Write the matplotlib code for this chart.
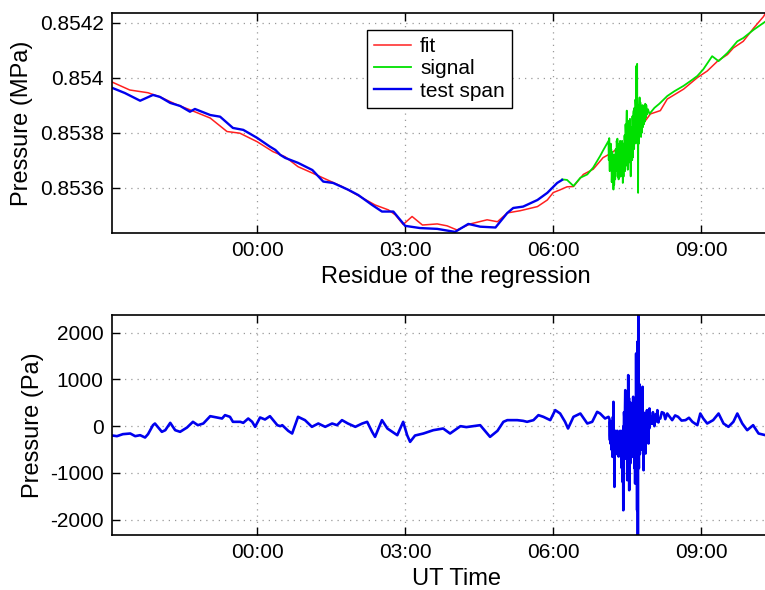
import matplotlib.pyplot as plt

# time axis in hours (UT)
# top panel: pressure in MPa
span_t = [-2.94, -2.68, -2.37, -2.11, -1.97, -1.76, -1.56, -1.36, -1.26, -0.95,
          -0.75, -0.49, -0.28, 0.00, 0.26, 0.37, 0.47, 0.57, 0.83, 1.12,
          1.34, 1.54, 1.85, 2.05, 2.33, 2.53, 2.76, 3.00, 3.30, 3.65,
          4.01, 4.28, 4.52, 4.83, 5.07, 5.19, 5.39, 5.68, 5.88, 6.08, 6.18]
span_p = [0.853963, 0.853944, 0.853916, 0.853937, 0.853930, 0.853908, 0.853897, 0.853876, 0.853886, 0.853864,
          0.853858, 0.853817, 0.853810, 0.853781, 0.853749, 0.853737, 0.853719, 0.853708, 0.853690, 0.853664,
          0.853622, 0.853617, 0.853592, 0.853573, 0.853537, 0.853513, 0.853513, 0.853461, 0.853453, 0.853450,
          0.853439, 0.853468, 0.853458, 0.853455, 0.853508, 0.853526, 0.853531, 0.853555, 0.853581, 0.853617, 0.853628]

fit_t = [-2.94, -2.58, -2.21, -1.97, -1.62, -1.36, -0.95, -0.61, -0.35, 0.00,
         0.32, 0.57, 0.83, 1.12, 1.72, 2.39, 2.66, 2.80, 2.96, 3.14,
         3.35, 3.65, 3.85, 4.05, 4.32, 4.66, 4.87, 5.07, 5.33, 5.68,
         5.88, 6.00, 6.14, 6.28, 6.41, 6.61, 6.81, 7.01, 7.16, 7.36,
         7.62, 7.97, 8.17, 8.31, 8.64, 8.92, 9.12, 9.33, 9.53, 9.65,
         9.85, 10.06, 10.26, 10.32]
fit_p = [0.853984, 0.853955, 0.853945, 0.853930, 0.853901, 0.853883, 0.853853, 0.853804, 0.853798, 0.853767,
         0.853731, 0.853712, 0.853676, 0.853653, 0.853604, 0.853537, 0.853519, 0.853501, 0.853466, 0.853495,
         0.853464, 0.853468, 0.853461, 0.853446, 0.853468, 0.853483, 0.853476, 0.853508, 0.853516, 0.853531,
         0.853555, 0.853582, 0.853592, 0.853603, 0.853604, 0.853648, 0.853667, 0.853709, 0.853724, 0.853749,
         0.853784, 0.853868, 0.853880, 0.853922, 0.853958, 0.854000, 0.854024, 0.854060, 0.854084, 0.854108,
         0.854132, 0.854180, 0.854222, 0.854240]

sig_t = [6.18, 6.28, 6.41, 6.55, 6.69, 6.81, 6.95, 7.01, 7.10,
         7.120, 7.125, 7.130, 7.135, 7.140, 7.145, 7.150, 7.155, 7.160, 7.165,
         7.170, 7.175, 7.180, 7.185, 7.190, 7.195, 7.200, 7.205, 7.210, 7.215,
         7.220, 7.225, 7.230, 7.235, 7.240, 7.245, 7.250, 7.255, 7.260, 7.265,
         7.270, 7.275, 7.280, 7.285, 7.290, 7.295, 7.300, 7.305, 7.310, 7.315,
         7.320, 7.325, 7.330, 7.335, 7.340, 7.345, 7.350, 7.355, 7.360, 7.365,
         7.370, 7.375, 7.380, 7.385, 7.390, 7.395, 7.400, 7.405, 7.410, 7.415,
         7.420, 7.425, 7.430, 7.435, 7.440, 7.445, 7.450, 7.455, 7.460, 7.465,
         7.470, 7.475, 7.480, 7.485, 7.490, 7.495, 7.500, 7.505, 7.510, 7.515,
         7.520, 7.525, 7.530, 7.535, 7.540, 7.545, 7.550, 7.555, 7.560, 7.565,
         7.570, 7.575, 7.580, 7.585, 7.590, 7.595, 7.600, 7.605, 7.610, 7.615,
         7.620, 7.625, 7.630, 7.635, 7.640, 7.645, 7.650, 7.655, 7.660, 7.665,
         7.670, 7.675, 7.680, 7.685, 7.690, 7.695, 7.700, 7.705, 7.710, 7.715,
         7.720, 7.725, 7.730, 7.735, 7.740, 7.745, 7.750, 7.755, 7.760, 7.765,
         7.770, 7.775, 7.780, 7.785, 7.790, 7.795, 7.800, 7.805, 7.810, 7.815,
         7.820, 7.825, 7.830, 7.835, 7.840, 7.845, 7.850, 7.855, 7.860, 7.865,
         7.870, 7.875, 7.880, 7.885, 7.890, 7.895, 7.900, 7.92,
         7.95, 8.05, 8.15, 8.31, 8.45, 8.64, 8.80, 8.92, 9.04, 9.22,
         9.35, 9.53, 9.73, 9.85, 10.06, 10.30]
sig_p = [0.853630, 0.853628, 0.853606, 0.853636, 0.853648, 0.853673, 0.853715, 0.853735, 0.853764,
         0.853770, 0.853700, 0.853740, 0.853780, 0.853700, 0.853660, 0.853745, 0.853690, 0.853724, 0.853760,
         0.853680, 0.853740, 0.853710, 0.853620, 0.853650, 0.853730, 0.853676, 0.853640, 0.853620, 0.853700,
         0.853593, 0.853720, 0.853690, 0.853610, 0.853640, 0.853720, 0.853688, 0.853630, 0.853650, 0.853740,
         0.853720, 0.853660, 0.853680, 0.853770, 0.853760, 0.853690, 0.853778, 0.853640, 0.853670, 0.853750,
         0.853700, 0.853630, 0.853660, 0.853760, 0.853720, 0.853650, 0.853690, 0.853770, 0.853724, 0.853640,
         0.853680, 0.853760, 0.853736, 0.853660, 0.853700, 0.853770, 0.853650, 0.853720, 0.853617, 0.853740,
         0.853700, 0.853640, 0.853760, 0.853680, 0.853690, 0.853790, 0.853749, 0.853660, 0.853700, 0.853830,
         0.853800, 0.853680, 0.853720, 0.853840, 0.853880, 0.853700, 0.853760, 0.853820, 0.853665, 0.853810,
         0.853780, 0.853690, 0.853700, 0.853830, 0.853844, 0.853700, 0.853740, 0.853850, 0.853800, 0.853690,
         0.853641, 0.853820, 0.853760, 0.853700, 0.853820, 0.853730, 0.853700, 0.853860, 0.853800, 0.853710,
         0.853760, 0.853870, 0.853880, 0.853740, 0.853740, 0.853890, 0.853850, 0.853760, 0.853780, 0.853920,
         0.853900, 0.853780, 0.854042, 0.853820, 0.853800, 0.853960, 0.854050, 0.853760, 0.853900, 0.853700,
         0.853581, 0.853900, 0.853856, 0.853760, 0.853780, 0.853900, 0.853928, 0.853800, 0.853820, 0.853910,
         0.853880, 0.853790, 0.853784, 0.853890, 0.853860, 0.853810, 0.853800, 0.853900, 0.853880, 0.853820,
         0.853820, 0.853895, 0.853870, 0.853830, 0.853832, 0.853900, 0.853880, 0.853840, 0.853850, 0.853905,
         0.853892, 0.853855, 0.853860, 0.853900, 0.853890, 0.853865, 0.853870, 0.853885,
         0.853868, 0.853890, 0.853905, 0.853933, 0.853950, 0.853970, 0.853990, 0.854006, 0.854030, 0.854078,
         0.854060, 0.854090, 0.854132, 0.854144, 0.854174, 0.854204]

# bottom panel: residue of the regression in Pa
res_t = [-2.98, -2.84, -2.72, -2.57, -2.47, -2.37, -2.27, -2.21, -2.11, -2.07,
         -1.93, -1.86, -1.76, -1.66, -1.56, -1.42, -1.30, -1.20, -1.09, -0.95,
         -0.81, -0.71, -0.65, -0.55, -0.49, -0.34, -0.28, -0.18, -0.10, -0.04,
         0.06, 0.16, 0.26, 0.41, 0.47, 0.51, 0.63, 0.71, 0.83, 0.97,
         1.11, 1.24, 1.38, 1.52, 1.62, 1.72, 1.84, 1.99, 2.13, 2.23,
         2.33, 2.39, 2.53, 2.64, 2.74, 2.84, 2.96, 3.04, 3.10, 3.20,
         3.37, 3.57, 3.77, 3.91, 4.12, 4.24, 4.38, 4.52, 4.72, 4.87,
         4.99, 5.07, 5.19, 5.27, 5.39, 5.47, 5.60, 5.70, 5.80, 5.94,
         6.04, 6.14, 6.24, 6.30, 6.41, 6.55, 6.69, 6.79, 6.89, 6.95,
         7.05, 7.12,
         7.140, 7.145, 7.150, 7.155, 7.160, 7.165, 7.170, 7.175, 7.180, 7.185,
         7.190, 7.195, 7.200, 7.205, 7.210, 7.215, 7.220, 7.225, 7.230, 7.235,
         7.240, 7.245, 7.250, 7.255, 7.260, 7.265, 7.270, 7.275, 7.280, 7.285,
         7.290, 7.295, 7.300, 7.305, 7.310, 7.315, 7.320, 7.325, 7.330, 7.335,
         7.340, 7.345, 7.350, 7.355, 7.360, 7.365, 7.370, 7.375, 7.380, 7.385,
         7.390, 7.395, 7.400, 7.405, 7.410, 7.415, 7.420, 7.425, 7.430, 7.435,
         7.440, 7.445, 7.450, 7.455, 7.460, 7.465, 7.470, 7.475, 7.480, 7.485,
         7.490, 7.495, 7.500, 7.505, 7.510, 7.515, 7.520, 7.525, 7.530, 7.535,
         7.540, 7.545, 7.550, 7.555, 7.560, 7.565, 7.570, 7.575, 7.580, 7.585,
         7.590, 7.595, 7.600, 7.605, 7.610, 7.615, 7.620, 7.625, 7.630, 7.635,
         7.640, 7.645, 7.650, 7.655, 7.660, 7.665, 7.670, 7.675, 7.680, 7.685,
         7.690, 7.695, 7.700, 7.705, 7.710, 7.715, 7.720, 7.725, 7.730, 7.735,
         7.740, 7.745, 7.750, 7.755, 7.760, 7.765, 7.770, 7.775, 7.780, 7.785,
         7.790, 7.795, 7.800, 7.805, 7.810, 7.815, 7.820, 7.825, 7.830, 7.835,
         7.840, 7.845, 7.850, 7.855, 7.860, 7.865, 7.870, 7.875, 7.880, 7.885,
         7.890, 7.895, 7.900, 7.905, 7.910, 7.915, 7.920, 7.925, 7.930, 7.935,
         7.940, 7.945, 7.950, 7.960, 7.970,
         8.00, 8.02, 8.03, 8.05, 8.07, 8.09, 8.11, 8.13, 8.14, 8.17,
         8.20, 8.24, 8.27, 8.31, 8.36, 8.41, 8.47, 8.53, 8.60, 8.68,
         8.75, 8.82, 8.92, 8.98, 9.04, 9.12, 9.24, 9.35, 9.45, 9.55,
         9.65, 9.73, 9.83, 9.93, 10.05, 10.16, 10.30, 11.00]
res_p = [-193, -214, -171, -157, -214, -193, -243, -171, 21, 57,
         -121, -86, 71, -86, -121, -29, 93, 21, 57, 214,
         186, 164, 236, 200, 93, 93, 71, 164, 93, -14,
         186, 143, 214, 21, 0, 21, -100, -157, 200, 129,
         -14, 57, -14, 57, 21, 129, 57, -14, 57, 93,
         -121, -229, 129, -50, -121, -193, 93, -193, -336, -200,
         -157, -86, -50, -157, 0, -20, 0, 21, -229, -100,
         93, 129, 129, 129, 114, 93, 129, 236, 200, 129,
         343, 271, 93, -50, 200, 271, 57, 93, 307, 271,
         164, 200,
         150, -200, -300, 100, -371, -100, 100, -350, -500, -50,
         -200, -450, -657, -100, 200, -300, 521, -600, -400, -100,
         -1300, -200, -300, -600, -450, -100, -150, -550, -500, -150,
         -250, -600, -100, -500, -450, -150, -300, -650, -550, -150,
         -200, -600, -400, -100, -230, -500, -600, -150, -300, -700,
         -900, -100, -200, -600, -1200, -300, -1800, 0, -300, 300,
         200, -700, -500, 400, 771, -300, -600, 500, 300, -400,
         -700, 200, -1157, 100, 400, -500, 1093, -600, -200, 600,
         -1371, -100, 250, -500, -800, 200, 500, -300, 414, -600,
         -400, 300, -657, 100, 300, -400, 629, -300, -500, 500,
         200, -600, -900, 300, -1229, 200, 600, -500, 1557, -300,
         -700, 800, -1800, 1807, -1000, -2600, 500, 2600, -400, -900,
         300, 900, -200, -600, -230, 500, 400, -300, -500, 200,
         300, -400, -300, 500, 843, -200, -400, 300, -943, 100,
         200, -300, 271, -100, -300, 250, -586, 100, 250, -250,
         -200, 300, 343, -100, -150, 250, 300, -150, -371, 200,
         150, -50, 379, 50, 200,
         50, 300, 129, 0, 250, 100, 343, 80, 150, 164,
         300, 280, 150, 271, 200, 129, 230, 200, 120, 129,
         180, 93, 21, 271, 164, 57, 129, 271, 57, -14,
         93, 271, 57, -86, 21, -157, -193, -150]

hour_ticks = [0, 3, 6, 9]
hour_labels = ['00:00', '03:00', '06:00', '09:00']
mpa_ticks = [0.8536, 0.8538, 0.854, 0.8542]
mpa_labels = ['0.8536', '0.8538', '0.854', '0.8542']
pa_ticks = [-2000, -1000, 0, 1000, 2000]
pa_labels = ['-2000', '-1000', '0', '1000', '2000']

plt.rcParams['font.family'] = ['Liberation Sans', 'DejaVu Sans']

fig = plt.figure(figsize=(7.65, 5.9), dpi=100)
# the axes run past the right edge of the figure, as in the cropped original
ax1 = fig.add_axes([112 / 765, 1 - 233 / 590, 688 / 765, 220 / 590])
ax2 = fig.add_axes([112 / 765, 1 - 535 / 590, 688 / 765, 220 / 590])

ax1.plot(fit_t, fit_p, color='#ff2020', lw=1.1, label='fit')
ax1.plot(sig_t, sig_p, color='#00e000', lw=1.3, label='signal')
ax1.plot(span_t, span_p, color='#0000ee', lw=1.7, label='test span')
ax1.set_ylim(0.853435, 0.854235)
ax1.set_yticks(mpa_ticks)
ax1.set_yticklabels(mpa_labels)
ax1.set_xlabel('Residue of the regression', fontsize=17, labelpad=4)
ax1.set_ylabel('Pressure (MPa)', fontsize=17, labelpad=5)
leg = ax1.legend(loc='upper left', bbox_to_anchor=(0.3706, 0.9227), borderaxespad=0,
                 fontsize=15, fancybox=False, framealpha=1, edgecolor='black',
                 handlelength=1.75, handletextpad=0.45, labelspacing=0.15, borderpad=0.35)
leg.get_frame().set_linewidth(1.0)

ax2.plot(res_t, res_p, color='#0000ee', lw=1.9)
ax2.set_ylim(-2330, 2380)
ax2.set_yticks(pa_ticks)
ax2.set_yticklabels(pa_labels)
ax2.set_xlabel('UT Time', fontsize=17, labelpad=4)
ax2.set_ylabel('Pressure (Pa)', fontsize=17, labelpad=4)

for ax in (ax1, ax2):
    ax.set_xlim(-2.94, 11.0)
    ax.set_xticks(hour_ticks)
    ax.set_xticklabels(hour_labels)
    ax.grid(True, color='#999999', linestyle=(0, (1, 4)), linewidth=0.9)
    ax.tick_params(direction='in', length=6, width=1, top=True, right=True, labelsize=15, pad=6)
    for s in ax.spines.values():
        s.set_linewidth(1.2)

fig.savefig('out.png', dpi=100)
